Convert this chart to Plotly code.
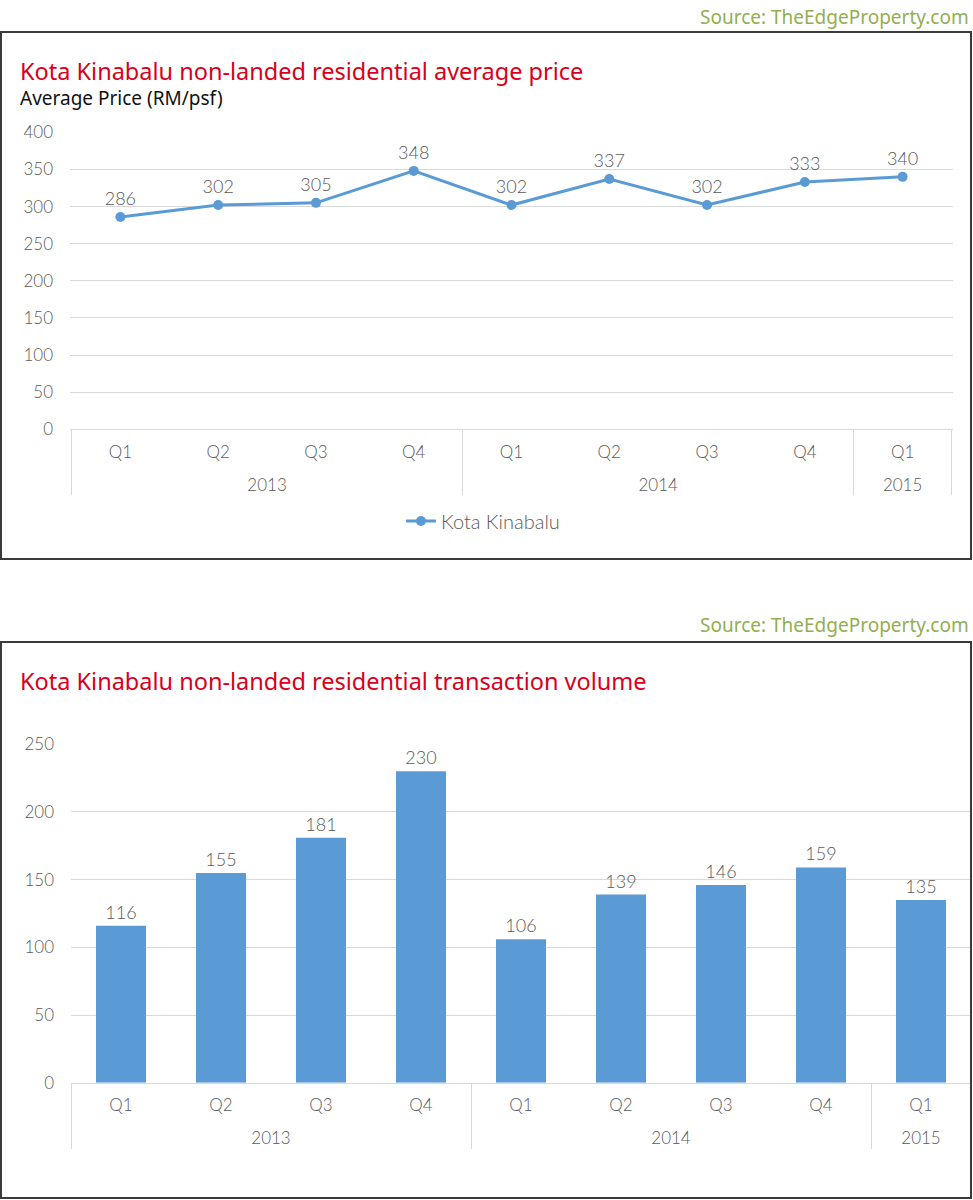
import plotly.graph_objects as go

# ---- data ----
years = ["2013", "2013", "2013", "2013", "2014", "2014", "2014", "2014", "2015"]
quarters = ["Q1", "Q2", "Q3", "Q4", "Q1", "Q2", "Q3", "Q4", "Q1"]
avg_price = [286, 302, 305, 348, 302, 337, 302, 333, 340]
volume = [116, 155, 181, 230, 106, 139, 146, 159, 135]
series_name = "Kota Kinabalu"
title_price = "Kota Kinabalu non-landed residential average price"
subtitle_price = "Average Price (RM/psf)"
title_volume = "Kota Kinabalu non-landed residential transaction volume"
source_text = "Source: TheEdgeProperty.com"

W, H = 973, 1200
BLUE = "#5B9BD5"
RED = "#D9001B"
GREEN = "#93AE4F"
GREY = "#595959"
GRID = "#D9D9D9"
TICKFONT = dict(family="Lato", size=17, color=GREY, weight=300)
TITLEFONT = "Noto Sans"

# invisible tall padding so the year row sits further below the quarter row
PAD = "<span style='font-size:31px'>&nbsp;</span>"
q_labels = [PAD + q + PAD for q in quarters]


def px(x):
    return x / W


def py(y):
    return 1 - y / H


fig = go.Figure()

fig.add_trace(go.Scatter(
    x=[years, q_labels], y=avg_price, name=series_name,
    mode="lines+markers+text", text=[str(v) for v in avg_price],
    textposition="top center", textfont=dict(family="Lato", size=18, color=GREY, weight=300),
    line=dict(color=BLUE, width=3), marker=dict(color=BLUE, size=10),
    xaxis="x", yaxis="y", cliponaxis=False, showlegend=True, hoverinfo="skip",
))

fig.add_trace(go.Bar(
    x=[years, q_labels], y=volume, name=series_name,
    text=[str(v) for v in volume], textposition="outside",
    textfont=dict(family="Lato", size=18, color=GREY, weight=300),
    marker=dict(color=BLUE, line=dict(width=0)),
    xaxis="x2", yaxis="y2", cliponaxis=False, showlegend=False, hoverinfo="skip",
))

xcommon = dict(type="multicategory", showline=True, linecolor=GRID, linewidth=1,
               ticks="", showgrid=False, tickfont=TICKFONT, showdividers=True,
               dividercolor=GRID, dividerwidth=1, automargin=False, fixedrange=True,
               ticklabelstandoff=7)
ycommon = dict(showline=False, zeroline=False, gridcolor=GRID, gridwidth=1,
               ticks="", tickfont=TICKFONT, automargin=False, ticklabelstandoff=16,
               fixedrange=True)

fig.update_layout(
    width=W, height=H, margin=dict(l=0, r=0, t=0, b=0),
    paper_bgcolor="white", plot_bgcolor="white",
    bargap=0.5,
    xaxis=dict(domain=[px(70), px(953)], anchor="y", **xcommon),
    yaxis=dict(domain=[py(429.3), py(132.3)], range=[0, 400], dtick=50, anchor="x", **ycommon),
    xaxis2=dict(domain=[px(71), px(971)], anchor="y2", **xcommon),
    yaxis2=dict(domain=[py(1082.7), py(744.3)], range=[0, 250], dtick=50, anchor="x2", **ycommon),
    legend=dict(x=px(483), y=py(521), xanchor="center", yanchor="middle",
                orientation="h", font=dict(family="Lato", size=20, color=GREY, weight=300),
                bgcolor="rgba(0,0,0,0)"),
    shapes=[
        dict(type="rect", xref="paper", yref="paper", x0=px(1), x1=px(971), y0=py(32), y1=py(559),
             line=dict(color="#3A3A3A", width=2)),
        dict(type="rect", xref="paper", yref="paper", x0=px(1), x1=px(971), y0=py(642), y1=py(1198),
             line=dict(color="#3A3A3A", width=2)),
    ],
    annotations=[
        dict(text=source_text, xref="paper", yref="paper", x=px(971), y=py(17), xanchor="right",
             yanchor="middle", showarrow=False, font=dict(family=TITLEFONT, size=19, color=GREEN)),
        dict(text=title_price, xref="paper", yref="paper", x=px(18), y=py(71), xanchor="left",
             yanchor="middle", showarrow=False, font=dict(family=TITLEFONT, size=23.5, color=RED)),
        dict(text=subtitle_price, xref="paper", yref="paper", x=px(18), y=py(98), xanchor="left",
             yanchor="middle", showarrow=False, font=dict(family=TITLEFONT, size=19, color="#111111")),
        dict(text=source_text, xref="paper", yref="paper", x=px(971), y=py(625), xanchor="right",
             yanchor="middle", showarrow=False, font=dict(family=TITLEFONT, size=19, color=GREEN)),
        dict(text=title_volume, xref="paper", yref="paper", x=px(18), y=py(681), xanchor="left",
             yanchor="middle", showarrow=False, font=dict(family=TITLEFONT, size=23.5, color=RED)),
    ],
)

fig.write_html("out.html", config={"displayModeBar": False},
               post_script="document.body.style.margin='0px';")
